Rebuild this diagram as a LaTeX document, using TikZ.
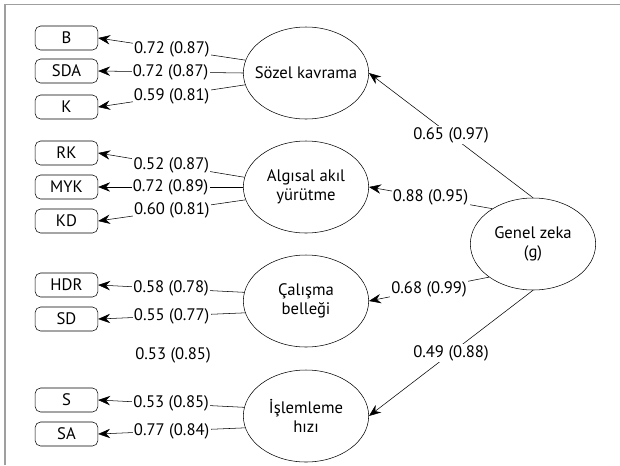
\documentclass[tikz,border=0pt]{standalone}
\usepackage{fontspec}
\setmainfont{PT Sans}
\usetikzlibrary{shapes.geometric,arrows.meta}

\tikzset{
  obs/.style={draw, rounded corners=4pt, minimum width=47pt, minimum height=18pt, inner sep=0pt},
  lat/.style={draw, ellipse, minimum width=94pt, minimum height=69pt, inner xsep=-10pt, inner ysep=0pt, align=center},
  lbl/.style={fill=white, inner sep=1pt},
  path/.style={-{Stealth[length=9pt, width=7pt, inset=3pt]}}
}

\begin{document}
\begin{tikzpicture}[x=0.75pt, y=-0.75pt, font=\fontsize{12.5}{14}\selectfont]

  \useasboundingbox (0,0) rectangle (620,465);

  % Cadre
  \draw[gray!75, line width=1pt] (5,465) -- (5,4.5) -- (620,4.5);

  % Variables observees
  \node[obs] (b)   at (66.5,38)  {B};
  \node[obs] (sda) at (66.5,71)  {SDA};
  \node[obs] (k)   at (66.5,107) {K};
  \node[obs] (rk)  at (66.5,153) {RK};
  \node[obs] (myk) at (66.5,187) {MYK};
  \node[obs] (kd)  at (66.5,221) {KD};
  \node[obs] (hdr) at (66.5,285) {HDR};
  \node[obs] (sd)  at (66.5,319) {SD};
  \node[obs] (s)   at (66.5,400) {S};
  \node[obs] (sa)  at (66.5,434) {SA};

  % Variables latentes
  \node[lat] (sozel)  at (306,73)  {Sözel kavrama};
  \node[lat] (algi)   at (306,187) {Algısal akıl\\yürütme};
  \node[lat] (calis)  at (306,301) {Çalışma\\belleği};
  \node[lat] (islem)  at (306,416) {İşlemleme\\hızı};
  \node[lat] (genel)  at (533,244) {Genel zeka\\(g)};

  % Yukler
  \draw[path] (sozel.168) -- (b.east)   node[midway, lbl] {0.72 (0.87)};
  \draw[path] (sozel.180) -- (sda.east) node[midway, lbl] {0.72 (0.87)};
  \draw[path] (sozel.191) -- (k.east)   node[midway, lbl] {0.59 (0.81)};

  \draw[path] (algi.171) -- (rk.east)  node[midway, lbl] {0.52 (0.87)};
  \draw[path] (algi.180) -- (myk.east) node[midway, lbl] {0.72 (0.89)};
  \draw[path] (algi.192) -- (kd.east)  node[midway, lbl] {0.60 (0.81)};

  \draw[path] (calis.172) -- (hdr.east) node[midway, lbl] {0.58 (0.78)};
  \draw[path] (calis.191) -- (sd.east)  node[midway, lbl] {0.55 (0.77)};

  \node (extra) at (173,355) {0.53 (0.85)};

  \draw[path] (islem.172) -- (s.east)  node[midway, lbl] {0.53 (0.85)};
  \draw[path] (islem.191) -- (sa.east) node[midway, lbl] {0.77 (0.84)};

  % Genel zeka
  \draw[path] (genel.north) -- (sozel.east) node[midway, lbl] {0.65 (0.97)};
  \draw[path] (genel.139)   -- (algi.east)  node[midway, lbl] {0.88 (0.95)};
  \draw[path] (genel.217)   -- (calis.east) node[midway, lbl] {0.68 (0.99)};
  \draw[path] (genel.south) -- (islem.east) node[midway, lbl] {0.49 (0.88)};

\end{tikzpicture}
\end{document}
